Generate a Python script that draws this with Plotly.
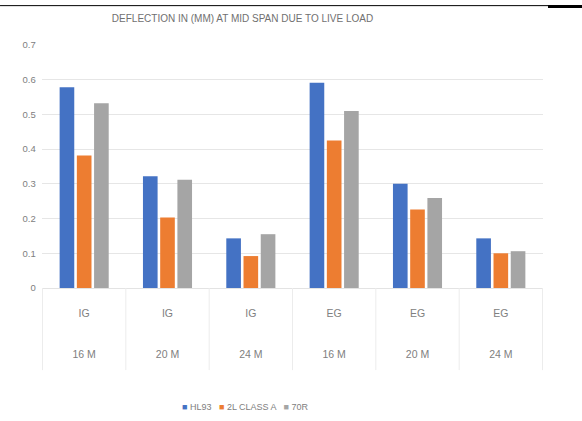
import plotly.graph_objects as go

# Girder type and span for each group
girders = ["IG", "IG", "IG", "EG", "EG", "EG"]
spans = ["16 M", "20 M", "24 M", "16 M", "20 M", "24 M"]

# Mid-span deflection (mm) under each live load
hl93 = [0.578, 0.322, 0.143, 0.591, 0.300, 0.143]
class_a = [0.382, 0.203, 0.092, 0.425, 0.226, 0.100]
r70 = [0.532, 0.312, 0.155, 0.510, 0.259, 0.106]

series = [
    ("HL93", hl93, "#4472C4"),
    ("2L CLASS A", class_a, "#ED7D31"),
    ("70R", r70, "#A5A5A5"),
]

FONT = "Liberation Sans, Arial, sans-serif"
TXT = "#808080"

# one unique category per girder/span pair, two-line tick text
keys = [f"{g} {s}" for g, s in zip(girders, spans)]
ticktext = [f"{g}<br><br><br>{s}" for g, s in zip(girders, spans)]

fig = go.Figure()
for name, vals, color in series:
    fig.add_trace(go.Bar(
        x=keys, y=vals, name=name,
        marker=dict(color=color, line=dict(width=0)),
    ))

# vertical dividers between the category boxes, below the axis
dividers = [
    dict(type="line", xref="x", yref="paper", x0=i - 0.5, x1=i - 0.5,
         y0=0, y1=-0.338, line=dict(color="#ececec", width=1))
    for i in range(len(keys) + 1)
]

# legend drawn as one centred line of coloured squares and names
legend_text = "   ".join(
    f"<span style='color:{c}'>■</span> {n}" for n, _, c in series
)

fig.update_layout(
    width=582, height=421,
    margin=dict(l=42, r=39, t=44.5, b=133),
    paper_bgcolor="white", plot_bgcolor="white",
    barmode="group", bargap=0.38, bargroupgap=0.15,
    font=dict(family=FONT, color=TXT, size=9),
    title=dict(text="DEFLECTION IN (MM) AT MID SPAN DUE TO LIVE LOAD",
               x=(242.5 / 582), xanchor="center", y=0.957, yanchor="middle",
               font=dict(family=FONT, size=10, color="#707070")),
    showlegend=False,
    xaxis=dict(type="category", showgrid=False, showline=True,
               linecolor="#e3e3e3", linewidth=1,
               tickmode="array", tickvals=keys, ticktext=ticktext,
               tickfont=dict(size=10.5, color=TXT),
               ticks="outside", ticklen=15, tickcolor="rgba(0,0,0,0)"),
    yaxis=dict(range=[0, 0.7], dtick=0.1, showgrid=True,
               gridcolor="#e6e6e6", gridwidth=1, zeroline=False,
               showline=False, tickfont=dict(size=9.5, color=TXT),
               ticksuffix="  "),
    shapes=dividers + [
        dict(type="line", xref="paper", yref="paper", x0=-0.0838, x1=1.01,
             y0=1.162, y1=1.162, line=dict(color="black", width=1)),
        dict(type="line", xref="paper", yref="paper", x0=1.01, x1=1.08,
             y0=1.158, y1=1.158, line=dict(color="black", width=3)),
    ],
    annotations=[
        dict(text=legend_text, xref="paper", yref="paper",
             x=(245 - 42) / 501, y=-0.489, xanchor="center",
             yanchor="middle", showarrow=False,
             font=dict(size=9, color=TXT)),
    ],
)

fig.write_html("out.html")
